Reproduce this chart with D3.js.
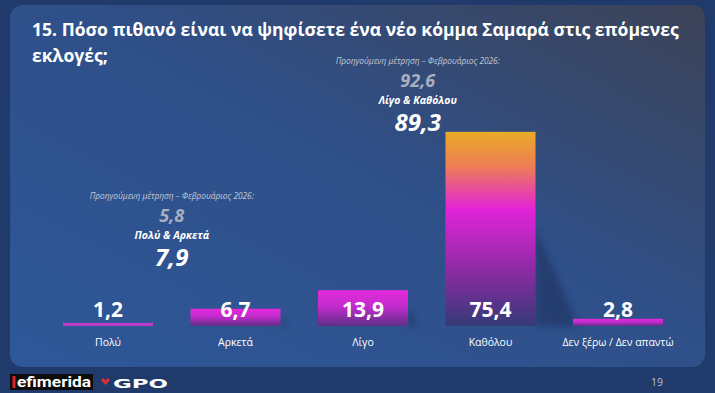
<!DOCTYPE html>
<html>
<head>
<meta charset="utf-8">
<script src="https://cdn.jsdelivr.net/npm/d3@7"></script>
<style>
  html, body { margin: 0; padding: 0; background: #213a6c; }
  svg { display: block; font-family: "Open Sans", "Noto Sans", sans-serif; }
</style>
</head>
<body>
<div id="chart"></div>
<script>
// Chart data
var categories = ["Πολύ", "Αρκετά", "Λίγο", "Καθόλου", "Δεν ξέρω / Δεν απαντώ"];
var values = [1.2, 6.7, 13.9, 75.4, 2.8];

// Grouped totals (current / previous measurement)
var groupTitles = ["Πολύ & Αρκετά", "Λίγο & Καθόλου"];
var groupCurrent = [7.9, 89.3];
var groupPrevious = [5.8, 92.6];
var groupAnchor = ["Πολύ", "Λίγο"]; // annotation sits between this category and the next
var prevNote = "Προηγούμενη μέτρηση – Φεβρουάριος 2026:";

var titleLines = ["15. Πόσο πιθανό είναι να ψηφίσετε ένα νέο κόμμα Σαμαρά στις επόμενες", "εκλογές;"];
var pageNumber = "19";

var svgWidth = 715;
var svgHeight = 393;
var baseline = 326;

var fmt = d3.formatLocale({decimal: ",", thousands: ".", grouping: [3], currency: ["", "€"]}).format(".1f");

var svg = d3.select("#chart")
    .append("svg")
    .attr("width", svgWidth)
    .attr("height", svgHeight);

var defs = svg.append("defs");

// background + panel
var bgGrad = defs.append("linearGradient")
    .attr("id", "panelGrad")
    .attr("x1", "0").attr("y1", "1").attr("x2", "1").attr("y2", "0");
bgGrad.append("stop").attr("offset", "0").attr("stop-color", "#2e5899");
bgGrad.append("stop").attr("offset", "0.55").attr("stop-color", "#2f4f88");
bgGrad.append("stop").attr("offset", "1").attr("stop-color", "#3c4357");

svg.append("rect").attr("width", svgWidth).attr("height", svgHeight).attr("fill", "#213a6c");
svg.append("rect")
    .attr("x", 10).attr("y", 5)
    .attr("width", 695).attr("height", 362)
    .attr("rx", 13)
    .attr("fill", "url(#panelGrad)");

// bar gradients
var bigGrad = defs.append("linearGradient")
    .attr("id", "bigGrad")
    .attr("x1", "0").attr("y1", "0").attr("x2", "0").attr("y2", "1");
[["0", "#e9ab26"], ["0.18", "#ee7c55"], ["0.4", "#e124d8"], ["0.7", "#902aa6"], ["1", "#353a76"]]
    .forEach(function(s) { bigGrad.append("stop").attr("offset", s[0]).attr("stop-color", s[1]); });

var smallGrad = defs.append("linearGradient")
    .attr("id", "smallGrad")
    .attr("x1", "0").attr("y1", "0").attr("x2", "0").attr("y2", "1");
[["0", "#e52adc"], ["0.45", "#c22ccc"], ["1", "#5e2f86"]]
    .forEach(function(s) { smallGrad.append("stop").attr("offset", s[0]).attr("stop-color", s[1]); });

var blur = defs.append("filter").attr("id", "shadowBlur")
    .attr("x", "-50%").attr("y", "-50%").attr("width", "200%").attr("height", "200%");
blur.append("feGaussianBlur").attr("stdDeviation", 3);

// scales
var xScale = d3.scaleBand()
    .domain(categories)
    .range([44.25, 681.75])
    .paddingInner(0.294)
    .paddingOuter(0.147);

var yScale = d3.scaleLinear()
    .domain([0, 80])
    .range([baseline, baseline - 206]);

var rows = categories.map(function(c, i) { return {cat: c, value: values[i]}; });

// title
var title = svg.append("text")
    .attr("x", 32)
    .attr("fill", "#ffffff")
    .attr("font-weight", 700)
    .attr("font-size", 17);
title.selectAll("tspan")
    .data(titleLines)
    .enter()
    .append("tspan")
    .attr("x", 32)
    .attr("y", (d, i) => 36 + i * 26)
    .text(d => d);
// fit first line to the reference width
var firstLine = title.select("tspan").node();
var w = firstLine.getComputedTextLength();
if (w > 0) title.attr("font-size", 17 * 647 / w);

// shadows
svg.append("g")
    .selectAll("polygon")
    .data(rows.filter(d => d.value > 3))
    .enter()
    .append("polygon")
    .attr("points", function(d) {
        var x1 = xScale(d.cat) + xScale.bandwidth();
        var h = baseline - yScale(d.value);
        return [[x1, baseline - 0.5 * h], [x1 + 0.2 * h + 4, baseline], [x1, baseline]].join(" ");
    })
    .attr("fill", "#15204a")
    .attr("opacity", 0.4)
    .attr("filter", "url(#shadowBlur)");

// bars
svg.append("g")
    .selectAll("rect")
    .data(rows)
    .enter()
    .append("rect")
    .attr("x", d => xScale(d.cat))
    .attr("width", xScale.bandwidth())
    .attr("y", d => yScale(d.value))
    .attr("height", d => baseline - yScale(d.value))
    .attr("fill", d => d.value > 50 ? "url(#bigGrad)" : (d.value < 2 ? "#b93cc8" : "url(#smallGrad)"));

// value labels
svg.append("g")
    .selectAll("text")
    .data(rows)
    .enter()
    .append("text")
    .attr("x", d => xScale(d.cat) + xScale.bandwidth() / 2)
    .attr("y", 317)
    .attr("text-anchor", "middle")
    .attr("fill", "#ffffff")
    .attr("font-weight", 700)
    .attr("font-size", 21)
    .text(d => fmt(d.value));

// category labels
svg.append("g")
    .selectAll("text")
    .data(rows)
    .enter()
    .append("text")
    .attr("x", d => xScale(d.cat) + xScale.bandwidth() / 2)
    .attr("y", 346)
    .attr("text-anchor", "middle")
    .attr("fill", "#ffffff")
    .attr("font-size", 10.5)
    .text(d => d.cat);

// group annotations
var groups = groupTitles.map(function(t, i) {
    var a = xScale(groupAnchor[i]) + xScale.bandwidth() / 2;
    var b = xScale(categories[categories.indexOf(groupAnchor[i]) + 1]) + xScale.bandwidth() / 2;
    return {title: t, cur: groupCurrent[i], prev: groupPrevious[i], cx: (a + b) / 2 + (i === 0 ? 0 : -9)};
});
var groupTops = [199, 64];

var ann = svg.append("g")
    .selectAll("g")
    .data(groups)
    .enter()
    .append("g")
    .attr("transform", (d, i) => `translate(${d.cx}, ${groupTops[i]})`)
    .attr("text-anchor", "middle")
    .attr("font-style", "italic");

ann.append("text")
    .attr("y", 0)
    .attr("fill", "#c3cad8")
    .attr("font-size", 8.3)
    .text(prevNote);

ann.append("text")
    .attr("y", 23)
    .attr("fill", "#a9b0c2")
    .attr("font-weight", 700)
    .attr("font-size", 18)
    .text(d => fmt(d.prev));

ann.append("text")
    .attr("y", 40)
    .attr("fill", "#ffffff")
    .attr("font-weight", 700)
    .attr("font-size", 10.5)
    .text(d => d.title);

ann.append("text")
    .attr("y", 67)
    .attr("fill", "#ffffff")
    .attr("font-weight", 700)
    .attr("font-size", 24)
    .text(d => fmt(d.cur));

// footer: iefimerida logo
var logo = svg.append("g");
logo.append("rect").attr("x", 10).attr("y", 374).attr("width", 83).attr("height", 16).attr("fill", "#0c0c0c");
logo.append("rect").attr("x", 12.5).attr("y", 376).attr("width", 3).attr("height", 12).attr("fill", "#e0202a");
logo.append("text")
    .attr("x", 17).attr("y", 387)
    .attr("fill", "#ffffff")
    .attr("font-family", "Roboto, sans-serif")
    .attr("font-weight", 700)
    .attr("font-size", 15)
    .attr("textLength", 74)
    .attr("lengthAdjust", "spacingAndGlyphs")
    .text("efimerida");

// GPO logo
var gpo = svg.append("g");
gpo.append("path")
    .attr("d", "M101,380 L105.5,385 L110,380 L108,378 L105.5,380.5 L103,378 Z")
    .attr("fill", "#e0303a");
gpo.append("text")
    .attr("x", 113).attr("y", 388)
    .attr("fill", "#ffffff")
    .attr("font-family", "DejaVu Sans, sans-serif")
    .attr("font-weight", 700)
    .attr("font-size", 12)
    .attr("textLength", 55)
    .attr("lengthAdjust", "spacingAndGlyphs")
    .text("GPO");

svg.append("text")
    .attr("x", 657).attr("y", 386)
    .attr("text-anchor", "middle")
    .attr("fill", "#b8c0d0")
    .attr("font-size", 10.5)
    .text(pageNumber);
</script>
</body>
</html>
